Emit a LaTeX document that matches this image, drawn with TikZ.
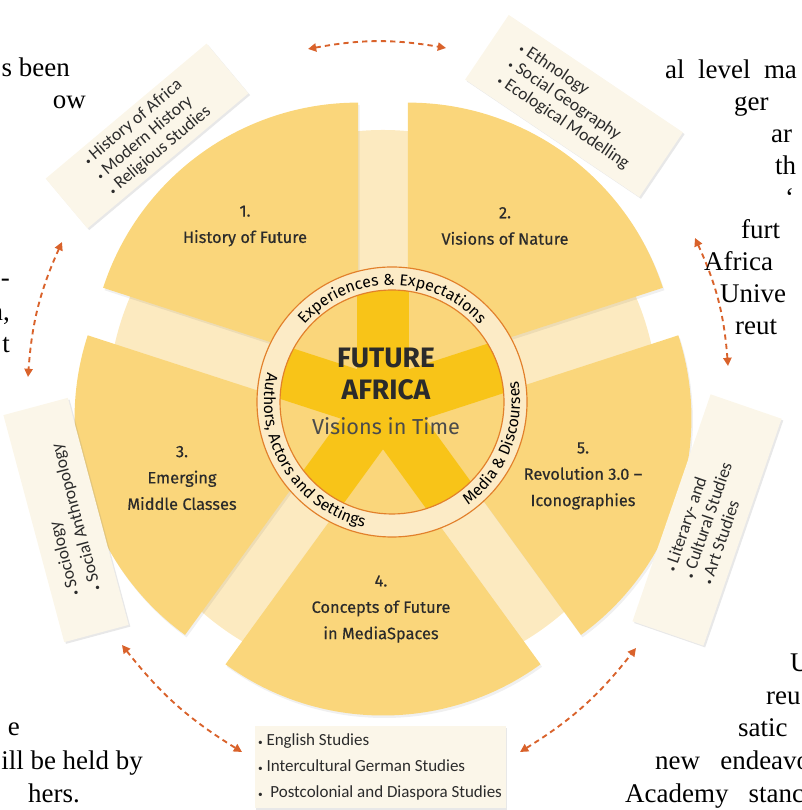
\documentclass[tikz,border=0pt]{standalone}
\usepackage{fontspec}
\setmainfont{Liberation Serif}
\newfontfamily\wheelfont{Fira Sans}
\newfontfamily\wheelmed[FakeBold=0.4]{Fira Sans}
\newfontfamily\boxfont{Carlito}
\usetikzlibrary{calc,arrows.meta,decorations.text,shadows}
\definecolor{secfill}{HTML}{FAD67B}
\definecolor{palefill}{HTML}{FCEAC0}
\definecolor{brightfill}{HTML}{F8C418}
\definecolor{ringcol}{HTML}{E2802B}
\definecolor{ringfill}{HTML}{FCEBC6}
\definecolor{boxfill}{HTML}{FBF6E9}
\definecolor{arrowcol}{HTML}{D9622B}
\definecolor{txt}{HTML}{2B2B2B}
\newcommand{\bul}{\scalebox{0.55}{\textbullet}\ }
\begin{document}
\begin{tikzpicture}[x=0.3mm,y=0.3mm,
  lab/.style={font=\wheelmed\fontsize{14}{22.5}\selectfont, text=txt, align=center},
  box/.style={fill=boxfill, drop shadow={shadow xshift=1.5pt, shadow yshift=-1.5pt, opacity=0.18},
    font=\boxfont\fontsize{15}{16.5}\selectfont, text=txt, align=left, inner sep=3pt},
  darrow/.style={draw=arrowcol, line width=1.6pt, dash pattern=on 4.5pt off 3.5pt,
    arrows={Triangle[length=7pt,width=7pt]-Triangle[length=7pt,width=7pt]}},
  body/.style={font=\fontsize{23}{26}\selectfont, text=black, inner sep=0pt}
]
\useasboundingbox (0,0) rectangle (801,810);
\clip (0,0) rectangle (801,810);
\coordinate (C) at (383,405);
\coordinate (R) at (392,408);

% pale background disc
\fill[palefill] (C) circle[radius=275];
% five exploded sectors
\foreach \a in {126,54,342,270,198}
  \fill[black, opacity=0.06]
    ($(C)+(\a:42.5)+(1.5,-2.5)$) -- ++({\a-36}:268) arc[start angle={\a-36}, end angle={\a+36}, radius=268] -- cycle;
\foreach \a in {126,54,342,270,198}
  \fill[secfill]
    ($(C)+(\a:42.5)$) -- ++({\a-36}:268) arc[start angle={\a-36}, end angle={\a+36}, radius=268] -- cycle;

% ring and inner disc
\fill[ringfill] (R) circle[radius=135];
\begin{scope}
  \clip (R) circle[radius=112];
  \fill[secfill] (R) circle[radius=112];
  \foreach \a in {90,18,306,234,162}
    \fill[brightfill] ($(C)+({\a+90}:26)$) -- ++(\a:160) -- ++({\a-90}:52) -- ++({\a+180}:160) -- cycle;
\end{scope}
\draw[ringcol, line width=1pt] (R) circle[radius=135];
\draw[ringcol, line width=1pt] (R) circle[radius=112];

% ring texts
{\wheelfont\fontsize{13.5}{13.5}\selectfont\color{txt}
\path[decorate, decoration={text along path, text align=center, text={Experiences {\&} Expectations}}]
  ($(R)+(165:117)$) arc[start angle=165, end angle=15, radius=117];
\path[decorate, decoration={text along path, text align=center, text={Media {\&} Discourses}}]
  ($(R)+(-72:128)$) arc[start angle=-72, end angle=28, radius=128];
\path[decorate, decoration={text along path, text align=center, text={Authors, Actors and Settings}}]
  ($(R)+(152:128)$) arc[start angle=152, end angle=272, radius=128];
}

% centre title
\node[font=\wheelfont\bfseries\fontsize{24}{28}\selectfont, text=txt, align=center] (title) at (386,436) {FUTURE\\AFRICA};
\node[font=\wheelfont\fontsize{18.5}{20}\selectfont, text=txt!85] (sub) at (386,384) {Visions in Time};

% sector labels
\node[lab] (s1) at (245,584) {1.\\History of Future};
\node[lab] (s2) at (505,584) {2.\\Visions of Nature};
\node[lab] (s3) at (182,332) {3.\\Emerging\\Middle Classes};
\node[lab] (s4) at (381,201) {4.\\Concepts of Future\\in MediaSpaces};
\node[lab] (s5) at (583,334) {5.\\Revolution 3.0 –\\Iconographies};

% discipline boxes
\node[box, rotate=40, minimum width=63mm, minimum height=19.5mm] (b1) at (147,674)
  {\bul History of Africa\\\bul Modern History\\\bul Religious Studies};
\node[box, rotate=-34, minimum width=63mm, minimum height=23.4mm] (b2) at (574,704)
  {\bul Ethnology\\\bul Social Geography\\\bul Ecological Modelling};
\node[box, rotate=105, minimum width=70.5mm, minimum height=20mm, font=\boxfont\fontsize{15}{19}\selectfont] (b3) at (66,290)
  {\bul Sociology\\\bul Social Anthropology};
\node[box, rotate=71, minimum width=72mm, minimum height=22.5mm] (b4) at (707,290)
  {\bul Literary- and\\\bul Cultural Studies\\\bul Art Studies};
\node[box, minimum width=75mm, minimum height=24.6mm, font=\boxfont\fontsize{14.5}{22.5}\selectfont] (b5) at (380,43)
  {\bul English Studies\\\bul Intercultural German Studies\\\bul\ Postcolonial and Diaspora Studies};

% dashed double arrows around the wheel
\coordinate (a1s) at (308,761);
\coordinate (a1e) at (446,762);
\coordinate (a2s) at (695,572);
\coordinate (a2e) at (728,444);
\coordinate (a3s) at (62,568);
\coordinate (a3e) at (28,433);
\coordinate (a4s) at (122,165);
\coordinate (a4e) at (242,58);
\coordinate (a5s) at (520,58);
\coordinate (a5e) at (636,162);
\draw[darrow] (a1s) to[bend left=10] (a1e);
\draw[darrow] (a2s) to[bend left=10] (a2e);
\draw[darrow] (a3s) to[bend right=10] (a3e);
\draw[darrow] (a4s) to[bend right=10] (a4e);
\draw[darrow] (a5s) to[bend right=10] (a5e);

% fragments of the surrounding page text
\node[body, anchor=base east] (l1) at (70,733) {s been};
\node[body, anchor=base east] (l2) at (86,701) {ow};
\node[body, anchor=base east] (l3) at (10,523) {-};
\node[body, anchor=base east] (l4) at (10,489) {n,};
\node[body, anchor=base east] (l5) at (10,457) {t};
\node[body, anchor=base east] (l6) at (20,74) {e};
\node[body, anchor=base east] (l7) at (143,40) {ill be held by};
\node[body, anchor=base east] (l8) at (80,8) {hers.};

\node[body, anchor=base west] (r1) at (665,731) {al\ \ level\ \ ma};
\node[body, anchor=base west] (r2) at (734,699) {ger};
\node[body, anchor=base west] (r3) at (771,667) {ar};
\node[body, anchor=base west] (r4) at (775,635) {th};
\node[body, anchor=base west] (r5) at (785,603) {`};
\node[body, anchor=base west] (r6) at (741,571) {furt};
\node[body, anchor=base west] (r7) at (704,539) {Africa};
\node[body, anchor=base west] (r8) at (720,507) {Unive};
\node[body, anchor=base west] (r9) at (735,475) {reut};
\node[body, anchor=base west] (r10) at (790,138) {U};
\node[body, anchor=base west] (r11) at (766,105) {reu};
\node[body, anchor=base west] (r12) at (738,73) {satic};
\node[body, anchor=base west] (r13) at (655,40) {new\ \ \ endeavou};
\node[body, anchor=base west] (r14) at (625,8) {Academy\ \ \ stanc};
\end{tikzpicture}
\end{document}
